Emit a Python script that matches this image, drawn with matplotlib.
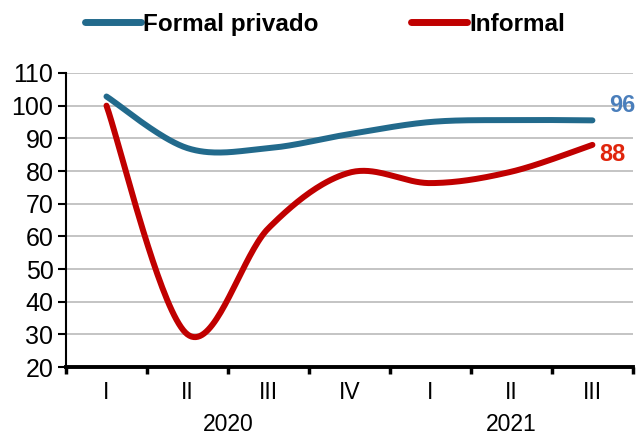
import numpy as np
import matplotlib.pyplot as plt
from matplotlib.lines import Line2D

# data
quarters = ["I", "II", "III", "IV", "I", "II", "III"]
years = ["2020", "2021"]
year_spans = [(0, 4), (4, 7)]
formal_privado = [102.8, 87.0, 87.0, 91.3, 95.0, 95.6, 95.5]
informal = [100.0, 30.0, 62.5, 79.5, 76.3, 79.8, 88.0]

blue = "#226A8C"
red = "#C00000"


def smooth(x, y, n=40):
    # Catmull-Rom style smoothing like the spreadsheet "smoothed line"
    x = np.asarray(x, float)
    y = np.asarray(y, float)
    px = np.concatenate([[x[0]], x, [x[-1]]])
    py = np.concatenate([[y[0]], y, [y[-1]]])
    xs, ys = [], []
    for i in range(1, len(px) - 2):
        p0, p1, p2, p3 = [np.array([px[j], py[j]]) for j in range(i - 1, i + 3)]
        c1 = p1 + (p2 - p0) / 6
        c2 = p2 - (p3 - p1) / 6
        t = np.linspace(0, 1, n)[:, None]
        b = (1 - t) ** 3 * p1 + 3 * (1 - t) ** 2 * t * c1 + 3 * (1 - t) * t ** 2 * c2 + t ** 3 * p2
        xs.append(b[:, 0])
        ys.append(b[:, 1])
    return np.concatenate(xs), np.concatenate(ys)


plt.rcParams["font.family"] = ["Liberation Sans", "DejaVu Sans"]

fig = plt.figure(figsize=(6.37, 4.37), dpi=100)
ax = fig.add_axes([0.1036, 0.160, 0.890, 0.673])

x = np.arange(len(quarters)) + 0.5
sx, sy = smooth(x, formal_privado)
ax.plot(sx, sy, color=blue, lw=4.3, solid_capstyle="round", zorder=3)
sx, sy = smooth(x, informal)
ax.plot(sx, sy, color=red, lw=4.3, solid_capstyle="round", zorder=3)

ax.set_xlim(0, 7)
ax.set_ylim(20, 110)
ax.set_yticks(range(20, 111, 10))
ax.yaxis.grid(True, color="#BFBFBF", lw=1.3)
ax.set_axisbelow(True)
ax.tick_params(axis="y", labelsize=18, length=6, width=1.5, direction="out", pad=3)

ax.set_xticks(range(0, 8))
ax.set_xticklabels([])
ax.set_xticks(x, minor=True)
ax.set_xticklabels(quarters, minor=True)
ax.tick_params(axis="x", which="major", length=5, width=2.5, direction="out")
ax.tick_params(axis="x", which="minor", length=0, labelsize=16.5, pad=10)

for sp in ["top", "right"]:
    ax.spines[sp].set_visible(False)
ax.spines["left"].set_linewidth(1.5)
ax.spines["bottom"].set_linewidth(2.8)

for yr, (a, b) in zip(years, year_spans):
    ax.text((a + b) / 2, -0.195, yr, transform=ax.get_xaxis_transform(),
            ha="center", va="center", fontsize=16.5)

ax.annotate(f"{formal_privado[-1]:.0f}", (x[-1], formal_privado[-1]), xytext=(30, 15),
            textcoords="offset pixels", ha="center", va="center",
            fontsize=17, fontweight="bold", color="#4A7EBB", annotation_clip=False)
ax.annotate(f"{informal[-1]:.0f}", (x[-1], informal[-1]), xytext=(20, -10),
            textcoords="offset pixels", ha="center", va="center",
            fontsize=17, fontweight="bold", color="#E0250C", annotation_clip=False)

handles = [Line2D([], [], color=blue, lw=5, solid_capstyle="round"),
           Line2D([], [], color=red, lw=5, solid_capstyle="round")]
fig.legend(handles, ["Formal privado", "Informal"], loc="center", bbox_to_anchor=(0.51, 0.945),
           ncol=2, frameon=False, handlelength=2.3, handletextpad=0.1, columnspacing=3.8,
           prop={"size": 17.5, "weight": "bold"})

fig.savefig("out.png", dpi=100)
